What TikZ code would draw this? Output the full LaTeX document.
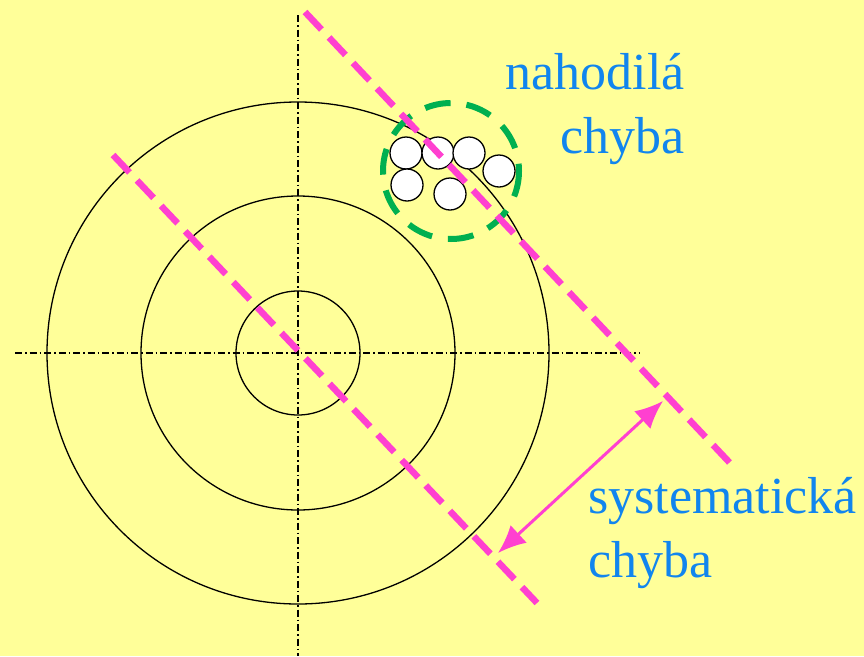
\documentclass[tikz,border=0pt]{standalone}
\usepackage{fontspec}
\setmainfont{Liberation Serif}
\usetikzlibrary{arrows.meta}
\definecolor{bgyellow}{RGB}{255,255,153}
\definecolor{errpink}{RGB}{255,64,208}
\definecolor{spreadgreen}{RGB}{0,176,80}
\definecolor{labelblue}{RGB}{17,133,238}
\tikzset{
  ring/.style={draw=black, line width=1.3pt},
  axis/.style={draw=black, line width=1.1pt, dash pattern=on 7pt off 3pt on 1.5pt off 3pt},
  shot/.style={draw=black, fill=white, line width=1.3pt},
  spread/.style={draw=spreadgreen, line width=6pt, dash pattern=on 26pt off 16pt},
  offsetline/.style={draw=errpink, line width=6.5pt, dash pattern=on 24pt off 11pt},
  offsetarrow/.style={{Latex[length=28pt,width=24pt]}-{Latex[length=28pt,width=24pt]}, draw=errpink, fill=errpink, line width=3pt},
  errlabel/.style={text=labelblue, font=\fontsize{52}{64}\selectfont, inner sep=0pt},
}
\begin{document}
\begin{tikzpicture}[x=1pt, y=-1pt]

\useasboundingbox[fill=bgyellow] (0,0) rectangle (864,656);

% Target and axes
\coordinate (ctr) at (298,353);
\coordinate (vtop) at (298,15);
\coordinate (vbot) at (298,656);
\coordinate (hleft) at (15,353);
\coordinate (hright) at (640,353);

\draw[ring] (ctr) circle[radius=62];
\draw[ring] (ctr) circle[radius=157];
\draw[ring] (ctr) circle[radius=251];
\draw[axis] (vtop) -- (vbot);
\draw[axis] (hleft) -- (hright);

% Group of hits
\coordinate (grp) at (451,171);
\draw[spread] (grp) circle[radius=68];
\node[shot, circle, minimum size=32pt, inner sep=0pt] (hit1) at (406,153) {};
\node[shot, circle, minimum size=32pt, inner sep=0pt] (hit2) at (438,153) {};
\node[shot, circle, minimum size=32pt, inner sep=0pt] (hit3) at (469,153) {};
\node[shot, circle, minimum size=32pt, inner sep=0pt] (hit4) at (499,171) {};
\node[shot, circle, minimum size=32pt, inner sep=0pt] (hit5) at (407,185) {};
\node[shot, circle, minimum size=32pt, inner sep=0pt] (hit6) at (450,194) {};

% Offset lines and arrow
\coordinate (axisA) at (113,155);
\coordinate (axisB) at (537,603);
\coordinate (meanA) at (305,12);
\coordinate (meanB) at (730,463);
\coordinate (arrA) at (498,553);
\coordinate (arrB) at (663,401);

\draw[offsetline] (axisA) -- (axisB);
\draw[offsetline] (meanA) -- (meanB);
\draw[offsetarrow] (arrA) -- (arrB);

% Labels
\node[errlabel, anchor=north east, align=right] (randlabel) at (685,53) {nahodilá\\chyba};
\node[errlabel, anchor=north west, align=left] (syslabel) at (588,477) {systematická\\chyba};

\end{tikzpicture}
\end{document}
